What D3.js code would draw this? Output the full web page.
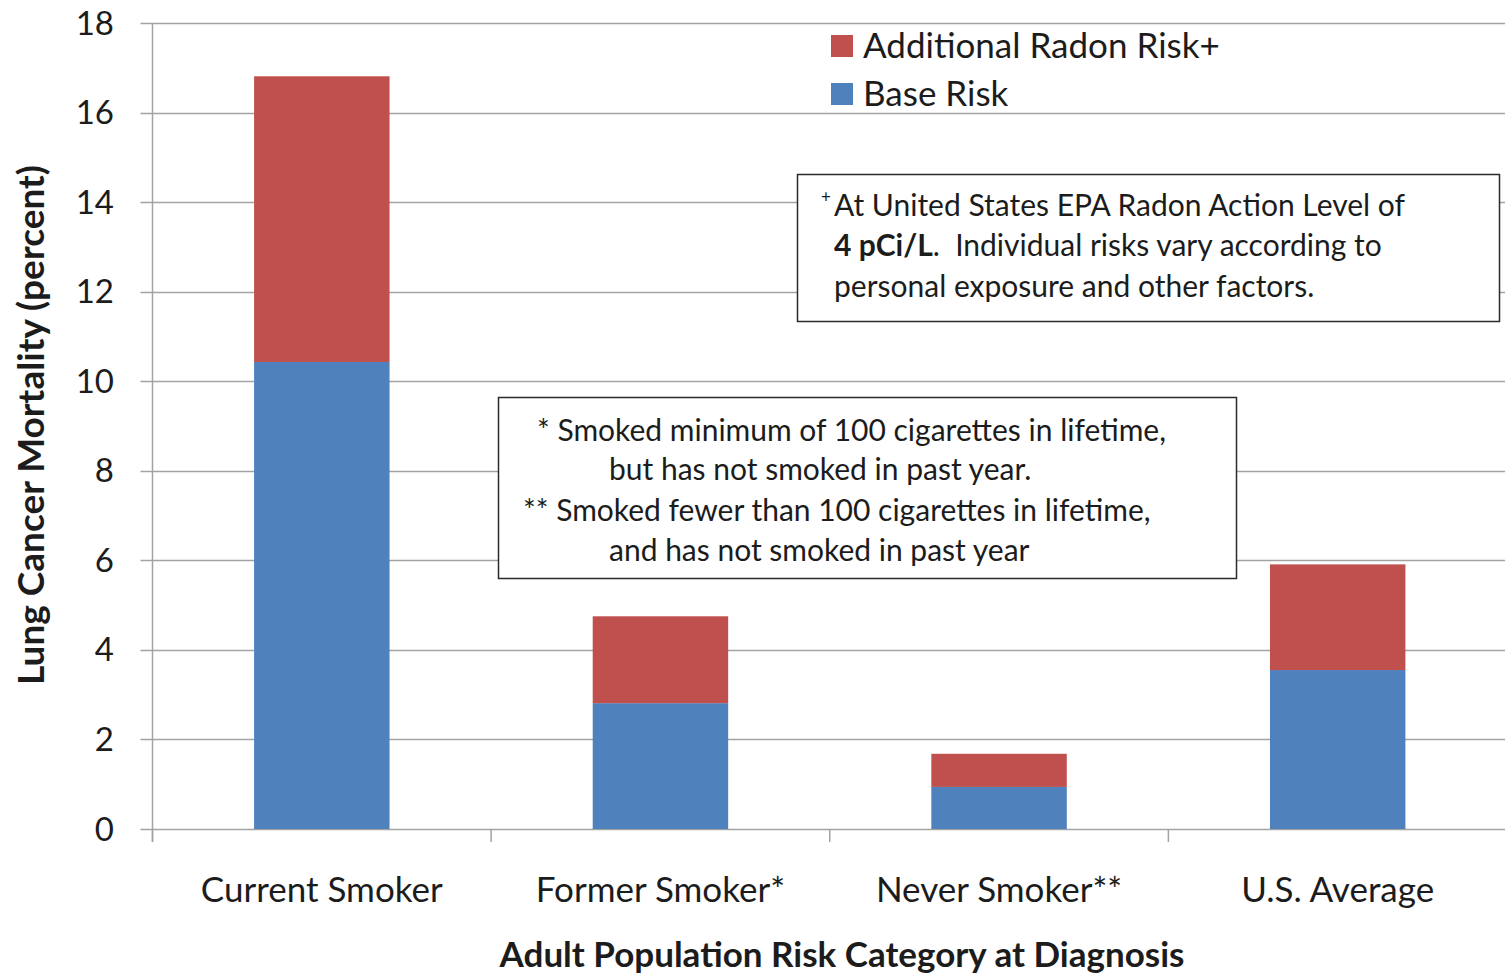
<!DOCTYPE html>
<html>
<head>
<meta charset="utf-8">
<script src="https://cdn.jsdelivr.net/npm/d3@7"></script>
<style>
  body { margin: 0; background: #fff; }
  svg { display: block; font-family: Lato, "Open Sans", sans-serif; }
</style>
</head>
<body>
<div id="chart"></div>
<script>
// data
var categories = ["Current Smoker", "Former Smoker*", "Never Smoker**", "U.S. Average"];
var baseRisk = [10.43, 2.81, 0.94, 3.55];
var radonRisk = [6.38, 1.94, 0.74, 2.36];
var seriesNames = ["Additional Radon Risk+", "Base Risk"];
var yTicks = [0, 2, 4, 6, 8, 10, 12, 14, 16, 18];

var W = 1505, H = 978;
var plotLeft = 152.5, plotRight = 1507, plotTop = 23, plotBottom = 829;
var red = "#c0504d", blue = "#4f81bd", grid = "#a3a3a3", ink = "#1c1c1c";

var svg = d3.select("#chart").append("svg")
    .attr("width", W)
    .attr("height", H);

var rows = categories.map(function(c, i) {
    return { cat: c, base: baseRisk[i], radon: radonRisk[i] };
});

var x = d3.scaleBand()
    .domain(categories)
    .range([plotLeft, plotRight])
    .paddingInner(0.6)
    .paddingOuter(0.3);

var y = d3.scaleLinear()
    .domain([0, 18])
    .range([plotBottom, plotTop]);

// gridlines + y ticks
svg.append("g")
    .selectAll("line")
    .data(yTicks)
    .enter()
    .append("line")
    .attr("x1", plotLeft - 12)
    .attr("x2", W)
    .attr("y1", function(d) { return Math.round(y(d)) + 0.5; })
    .attr("y2", function(d) { return Math.round(y(d)) + 0.5; })
    .attr("stroke", grid)
    .attr("stroke-width", 1.5);

svg.append("g")
    .selectAll("text")
    .data(yTicks)
    .enter()
    .append("text")
    .attr("x", 114)
    .attr("y", function(d) { return y(d); })
    .attr("dy", "0.35em")
    .attr("text-anchor", "end")
    .attr("font-size", 33)
    .attr("fill", ink)
    .text(function(d) { return d; });

// left axis line
svg.append("line")
    .attr("x1", plotLeft).attr("x2", plotLeft)
    .attr("y1", plotTop).attr("y2", plotBottom + 13)
    .attr("stroke", grid)
    .attr("stroke-width", 1.5);

// category boundary ticks
svg.append("g")
    .selectAll("line")
    .data(d3.range(categories.length))
    .enter()
    .append("line")
    .attr("x1", function(i) { return x.range()[0] + i * x.step(); })
    .attr("x2", function(i) { return x.range()[0] + i * x.step(); })
    .attr("y1", plotBottom)
    .attr("y2", plotBottom + 13)
    .attr("stroke", grid)
    .attr("stroke-width", 1.5);

// stacked bars
var bars = svg.append("g");
bars.selectAll("rect.base")
    .data(rows)
    .enter()
    .append("rect")
    .attr("class", "base")
    .attr("x", function(d) { return x(d.cat); })
    .attr("width", x.bandwidth())
    .attr("y", function(d) { return y(d.base); })
    .attr("height", function(d) { return y(0) - y(d.base); })
    .attr("fill", blue);

bars.selectAll("rect.radon")
    .data(rows)
    .enter()
    .append("rect")
    .attr("class", "radon")
    .attr("x", function(d) { return x(d.cat); })
    .attr("width", x.bandwidth())
    .attr("y", function(d) { return y(d.base + d.radon); })
    .attr("height", function(d) { return y(d.base) - y(d.base + d.radon); })
    .attr("fill", red);

// category labels
svg.append("g")
    .selectAll("text")
    .data(categories)
    .enter()
    .append("text")
    .attr("x", function(d) { return x(d) + x.bandwidth() / 2; })
    .attr("y", 890)
    .attr("dy", "0.35em")
    .attr("text-anchor", "middle")
    .attr("font-size", 35)
    .attr("fill", ink)
    .text(function(d) { return d; });

// axis titles
svg.append("text")
    .attr("x", 842)
    .attr("y", 955)
    .attr("dy", "0.35em")
    .attr("text-anchor", "middle")
    .attr("font-size", 35)
    .attr("font-weight", "bold")
    .attr("fill", ink)
    .text("Adult Population Risk Category at Diagnosis");

svg.append("text")
    .attr("transform", "translate(31,425) rotate(-90)")
    .attr("dy", "0.35em")
    .attr("text-anchor", "middle")
    .attr("font-size", 37)
    .attr("font-weight", "bold")
    .attr("fill", ink)
    .text("Lung Cancer Mortality (percent)");

// legend
var legend = svg.append("g")
    .selectAll("g")
    .data(seriesNames)
    .enter()
    .append("g")
    .attr("transform", function(d, i) { return "translate(831," + (35 + i * 48) + ")"; });
legend.append("rect")
    .attr("width", 22)
    .attr("height", 22)
    .attr("fill", function(d, i) { return i == 0 ? red : blue; });
legend.append("text")
    .attr("x", 32)
    .attr("y", 11)
    .attr("dy", "0.35em")
    .attr("font-size", 35)
    .attr("fill", ink)
    .text(function(d) { return d; });

// note box: radon action level
svg.append("rect")
    .attr("x", 797.5).attr("y", 174.5)
    .attr("width", 702).attr("height", 147)
    .attr("fill", "#fff")
    .attr("stroke", "#2b2b2b")
    .attr("stroke-width", 1.5);

var note1 = svg.append("g").attr("font-size", 30).attr("fill", ink);
var l1 = note1.append("text");
l1.append("tspan").attr("x", 821).attr("y", 203).attr("font-size", 17).text("+");
l1.append("tspan").attr("x", 834).attr("y", 216).text("At United States EPA Radon Action Level of");
var l2 = note1.append("text").attr("x", 834).attr("y", 245).attr("dy", "0.35em");
l2.append("tspan").attr("font-weight", "bold").text("4 pCi/L");
l2.append("tspan").attr("xml:space", "preserve").text(".  Individual risks vary according to");
note1.append("text").attr("x", 834).attr("y", 286).attr("dy", "0.35em")
    .text("personal exposure and other factors.");

// note box: smoker definitions
svg.append("rect")
    .attr("x", 498.5).attr("y", 397.5)
    .attr("width", 738).attr("height", 181)
    .attr("fill", "#fff")
    .attr("stroke", "#2b2b2b")
    .attr("stroke-width", 1.5);

var noteLines = [
    { x: 537, y: 430, t: "* Smoked minimum of 100 cigarettes in lifetime," },
    { x: 609, y: 469, t: "but has not smoked in past year." },
    { x: 523, y: 510, t: "** Smoked fewer than 100 cigarettes in lifetime," },
    { x: 609, y: 550, t: "and has not smoked in past year" }
];
svg.append("g")
    .selectAll("text")
    .data(noteLines)
    .enter()
    .append("text")
    .attr("x", function(d) { return d.x; })
    .attr("y", function(d) { return d.y; })
    .attr("dy", "0.35em")
    .attr("font-size", 30)
    .attr("fill", ink)
    .text(function(d) { return d.t; });
</script>
</body>
</html>
